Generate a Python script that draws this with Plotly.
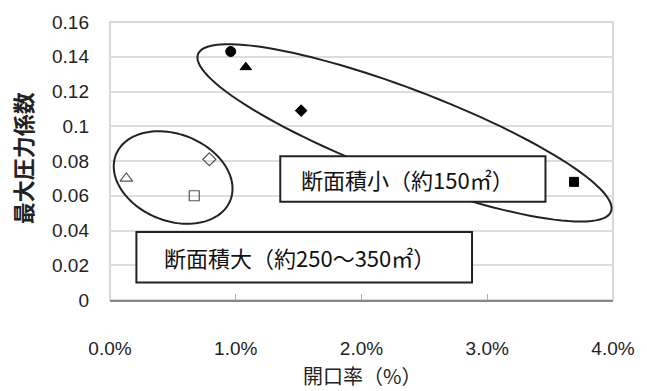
import numpy as np
import plotly.graph_objects as go

# Opening ratio (%) vs maximum pressure coefficient
small_x = [0.96, 1.08, 1.52, 3.69]          # cross-section small (~150 m2), filled markers
small_y = [0.143, 0.134, 0.109, 0.068]
small_symbols = ["circle", "triangle-up", "diamond", "square"]
small_sizes = [10, 10, 9, 9]

large_x = [0.13, 0.79, 0.67]                 # cross-section large (~250-350 m2), open markers
large_y = [0.070, 0.081, 0.060]
large_symbols = ["triangle-up-open", "diamond-open", "square-open"]
large_sizes = [11, 10, 10]

x_ticks = [0, 1, 2, 3, 4]
x_tick_text = ["0.0%", "1.0%", "2.0%", "3.0%", "4.0%"]
y_ticks = [0, 0.02, 0.04, 0.06, 0.08, 0.10, 0.12, 0.14, 0.16]
y_tick_text = ["0", "0.02", "0.04", "0.06", "0.08", "0.1", "0.12", "0.14", "0.16"]

label_small = "断面積小（約150㎡）"
label_large = "断面積大（約250～350㎡）"
x_title = "開口率（%）"
y_title = "最大圧力係数"

W, H = 647, 391
ML, MR, MT, MB = 110, 23, 14, 91
XR = [0, 4]
YR = [0, 0.16]
PX_X = (W - ML - MR) / (XR[1] - XR[0])
PX_Y = (H - MT - MB) / (YR[1] - YR[0])

CJK = "Noto Sans CJK JP"
NUM = "Liberation Sans, Arial, sans-serif"


def ellipse_path(cx, cy, a_px, b_px, angle_deg, n=120):
    """Closed SVG path (data coords) of an ellipse tilted on screen."""
    th = np.radians(angle_deg)
    t = np.linspace(0, 2 * np.pi, n)
    dx = a_px * np.cos(t) * np.cos(th) - b_px * np.sin(t) * np.sin(th)
    dy = a_px * np.cos(t) * np.sin(th) + b_px * np.sin(t) * np.cos(th)
    xs = cx + dx / PX_X
    ys = cy - dy / PX_Y
    pts = [f"{x:.5f},{y:.6f}" for x, y in zip(xs, ys)]
    return "M " + " L ".join(pts) + " Z"


fig = go.Figure()

fig.add_trace(go.Scatter(
    x=small_x, y=small_y, mode="markers",
    marker=dict(symbol=small_symbols, size=small_sizes, color="#000000", opacity=1,
                line=dict(width=1, color="#000000")),
    showlegend=False, hoverinfo="x+y",
))
fig.add_trace(go.Scatter(
    x=large_x, y=large_y, mode="markers",
    marker=dict(symbol=large_symbols, size=large_sizes, color="#555555", opacity=1,
                line=dict(width=1.2, color="#555555")),
    showlegend=False, hoverinfo="x+y",
))

shapes = [
    # grouping ellipses
    dict(type="path", xref="x", yref="y",
         path=ellipse_path(2.342, 0.0962, 226, 45, 21),
         line=dict(color="#222222", width=2)),
    dict(type="path", xref="x", yref="y",
         path=ellipse_path(0.502, 0.0705, 63, 44.5, 22.3),
         line=dict(color="#222222", width=2)),
    # label boxes
    dict(type="rect", xref="x", yref="y", x0=1.354, x1=3.463, y0=0.0565, y1=0.0828,
         fillcolor="white", line=dict(color="#222222", width=2)),
    dict(type="rect", xref="x", yref="y", x0=0.210, x1=2.879, y0=0.0101, y1=0.0391,
         fillcolor="white", line=dict(color="#222222", width=2)),
    # plot frame
    dict(type="rect", xref="paper", yref="paper", x0=0, x1=1, y0=0, y1=1,
         line=dict(color="#cccccc", width=1.5), layer="below"),
]

annotations = [
    dict(x=1.502, y=0.0696, xref="x", yref="y", text=label_small, showarrow=False,
         xanchor="left", yanchor="middle", font=dict(family=CJK, size=22, color="#111111")),
    dict(x=0.412, y=0.0246, xref="x", yref="y", text=label_large, showarrow=False,
         xanchor="left", yanchor="middle", font=dict(family=CJK, size=22, color="#111111")),
    dict(x=0.5, y=-0.273, xref="paper", yref="paper", text=x_title, showarrow=False,
         xanchor="center", yanchor="middle", font=dict(family=CJK, size=20, color="#222222")),
    dict(x=-0.175, y=0.51, xref="paper", yref="paper", text="<b>" + y_title + "</b>",
         showarrow=False, textangle=-90, xanchor="center", yanchor="middle",
         font=dict(family=CJK, size=22, color="#222222")),
]

fig.update_layout(
    width=W, height=H,
    margin=dict(l=ML, r=MR, t=MT, b=MB, pad=0),
    plot_bgcolor="white", paper_bgcolor="white",
    shapes=shapes, annotations=annotations,
    xaxis=dict(range=XR, tickvals=x_ticks, ticktext=x_tick_text,
               showgrid=False, zeroline=False,
               showline=True, linecolor="#888888", linewidth=1.5,
               ticks="inside", ticklen=6, tickcolor="#aaaaaa",
               ticklabelstandoff=30,
               tickfont=dict(family=NUM, size=19, color="#222222")),
    yaxis=dict(range=YR, tickvals=y_ticks, ticktext=y_tick_text,
               showgrid=True, gridcolor="#dddddd", gridwidth=1.5,
               zeroline=False, showline=False,
               ticks="", ticklabelstandoff=20,
               tickfont=dict(family=NUM, size=19, color="#222222")),
)

fig.write_html("out.html")
